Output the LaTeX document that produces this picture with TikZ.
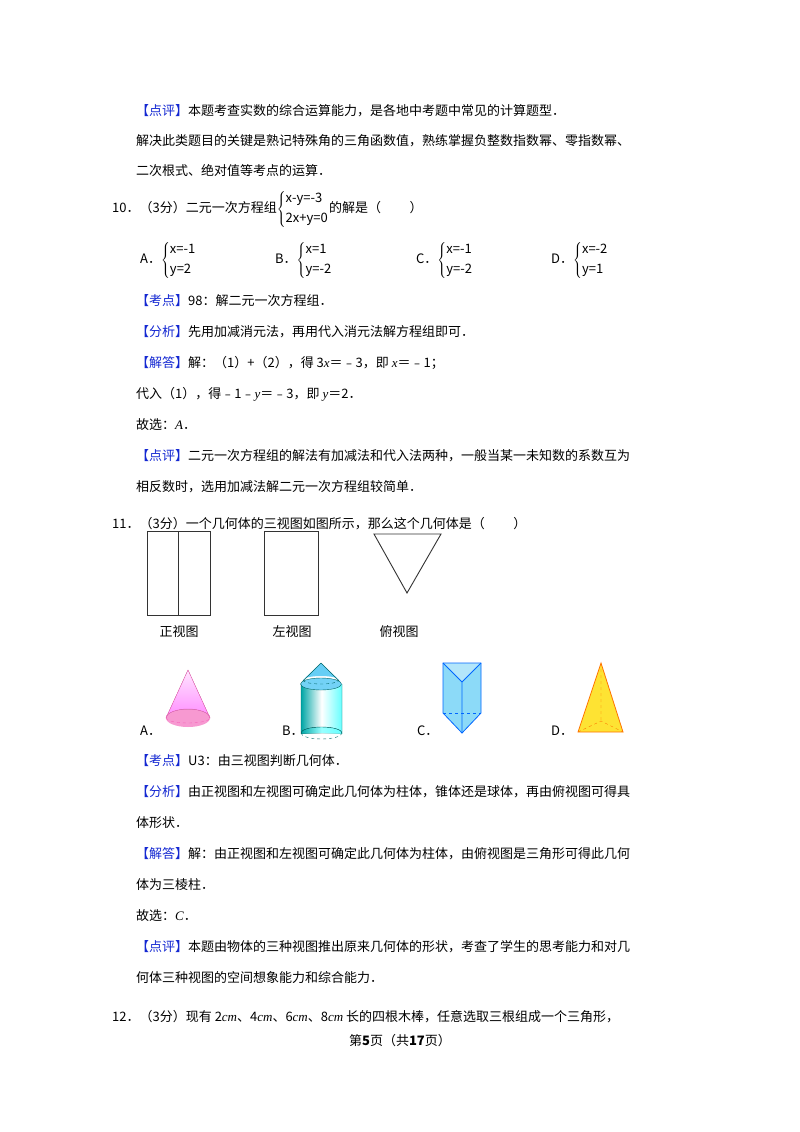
\documentclass[tikz,border=0pt]{standalone}
\usepackage{fontspec}
\setmainfont{Noto Sans CJK SC}
\newfontfamily\tnr{Liberation Serif}
\newcommand{\mi}[1]{{\tnr\itshape #1}}
\newcommand{\tg}[1]{\textcolor{tagblue}{【#1】}}
\newcommand{\eqs}[2]{$\left\{\mbox{\begin{tabular}{@{}l@{}}#1\\[5pt]#2\end{tabular}}\right.$}
\definecolor{tagblue}{RGB}{20,40,210}
\begin{document}
\begin{tikzpicture}[x=1pt,y=-1pt,
  t/.style={anchor=base west,inner sep=0pt,font=\fontsize{13}{15}\selectfont},
  lab/.style={anchor=center,inner sep=0pt,font=\fontsize{13}{15}\selectfont},
  ln/.style={line width=0.9pt,black!80}]
\useasboundingbox[fill=white] (0,0) rectangle (800,1132);
\node[t] (l1) at (136,115) {\tg{点评}本题考查实数的综合运算能力，是各地中考题中常见的计算题型．};
\node[t] (l2) at (136,145) {解决此类题目的关键是熟记特殊角的三角函数值，熟练掌握负整数指数幂、零指数幂、};
\node[t] (l3) at (136,175) {二次根式、绝对值等考点的运算．};
\node[t] (q10) at (112,212) {10．（3分）二元一次方程组\eqs{x-y=-3}{2x+y=0}的解是（\hspace{2.2em}）};
\node[t] (oA) at (140,263) {A．\eqs{x=-1}{y=2}};
\node[t] (oB) at (275,263) {B．\eqs{x=1}{y=-2}};
\node[t] (oC) at (416,263) {C．\eqs{x=-1}{y=-2}};
\node[t] (oD) at (551,263) {D．\eqs{x=-2}{y=1}};
\node[t] (k1) at (136,305) {\tg{考点}98：解二元一次方程组．};
\node[t] (f1) at (136,336) {\tg{分析}先用加减消元法，再用代入消元法解方程组即可．};
\node[t] (j1) at (136,367) {\tg{解答}解：（1）+（2），得 3\mi{x}＝﹣3，即 \mi{x}＝﹣1；};
\node[t] (j2) at (136,398) {代入（1），得﹣1﹣\mi{y}＝﹣3，即 \mi{y}＝2．};
\node[t] (j3) at (136,429) {故选：\mi{A}．};
\node[t] (p1) at (136,460) {\tg{点评}二元一次方程组的解法有加减法和代入法两种，一般当某一未知数的系数互为};
\node[t] (p2) at (136,491) {相反数时，选用加减法解二元一次方程组较简单．};
\node[t] (q11) at (112,528) {11．（3分）一个几何体的三视图如图所示，那么这个几何体是（\hspace{2.2em}）};
% three views
\draw[ln] (147,531) rectangle (210,615); \draw[ln] (178,531) -- (178,615);
\draw[ln] (264,531) rectangle (318,615);
\draw[ln] (374,534) -- (441,534) -- (407,593) -- cycle;
\node[lab] (v1) at (179,632) {正视图};
\node[lab] (v2) at (292,632) {左视图};
\node[lab] (v3) at (399,632) {俯视图};
% A cone
\node[t] (sA) at (140,735) {A．};
\fill[magenta!40] (188,718) ellipse[x radius=22,y radius=9];
\fill[top color=white!90!magenta,bottom color=magenta!45] (188,670) -- (166,718) arc[start angle=180,end angle=360,x radius=22,y radius=9] -- cycle;
\draw[magenta!60] (188,670) -- (166,718) arc[start angle=180,end angle=360,x radius=22,y radius=9] -- cycle;
\draw[magenta!60,dashed] (166,718) arc[start angle=180,end angle=0,x radius=22,y radius=5];
% B cylinder+cone
\node[t] (sB) at (282,735) {B．};
\fill[left color=teal!70!cyan,right color=cyan!60,middle color=white] (301,684) rectangle (342,733);
\fill[cyan!55] (321,684) ellipse[x radius=20.5,y radius=6];
\fill[left color=teal!70!cyan,right color=cyan!60,middle color=white!60!cyan] (301,733) arc[start angle=180,end angle=360,x radius=20.5,y radius=6] -- cycle;
\fill[cyan!60] (321,663) -- (303,680) arc[start angle=180,end angle=360,x radius=18,y radius=4] -- cycle;
\draw[teal!80!black] (321,663) -- (303,681) (321,663) -- (339,681);
\draw[teal!80!black] (321,684) ellipse[x radius=20.5,y radius=6];
\draw[teal!80!black] (301,684) -- (301,733) arc[start angle=180,end angle=360,x radius=20.5,y radius=6] -- (342,684);
\draw[teal!80!black,dashed] (301,733) arc[start angle=180,end angle=0,x radius=20.5,y radius=6];
\draw[teal!80!black,dashed] (303,680) arc[start angle=180,end angle=0,x radius=18,y radius=4];
% C prism
\node[t] (sC) at (417,735) {C．};
\fill[cyan!45] (443,663) -- (481,663) -- (481,713) -- (462,733) -- (443,713) -- cycle;
\fill[cyan!30] (443,663) -- (481,663) -- (462,682) -- cycle;
\draw[blue!60!cyan,line width=0.8pt] (443,663) -- (481,663) -- (481,713) -- (462,733) -- (443,713) -- cycle;
\draw[blue!60!cyan,line width=0.8pt] (443,663) -- (462,682) -- (481,663) (462,682) -- (462,733);
\draw[blue!60!cyan,dashed] (443,713) -- (481,713);
% D pyramid
\node[t] (sD) at (551,735) {D．};
\fill[yellow!80!orange!80] (601,663) -- (578,732) -- (623,732) -- cycle;
\draw[orange!90!red,line width=0.8pt] (601,663) -- (578,732) -- (623,732) -- cycle;
\draw[orange!90!red,dashed] (601,663) -- (601,721) (578,732) -- (601,721) -- (623,732);
\node[t] (k2) at (136,765) {\tg{考点}U3：由三视图判断几何体．};
\node[t] (f2) at (136,796) {\tg{分析}由正视图和左视图可确定此几何体为柱体，锥体还是球体，再由俯视图可得具};
\node[t] (f3) at (136,827) {体形状．};
\node[t] (j4) at (136,858) {\tg{解答}解：由正视图和左视图可确定此几何体为柱体，由俯视图是三角形可得此几何};
\node[t] (j5) at (136,889) {体为三棱柱．};
\node[t] (j6) at (136,920) {故选：\mi{C}．};
\node[t] (p3) at (136,951) {\tg{点评}本题由物体的三种视图推出原来几何体的形状，考查了学生的思考能力和对几};
\node[t] (p4) at (136,982) {何体三种视图的空间想象能力和综合能力．};
\node[t] (q12) at (112,1021) {12．（3分）现有 2\mi{cm}、4\mi{cm}、6\mi{cm}、8\mi{cm} 长的四根木棒，任意选取三根组成一个三角形，};
\node[lab] (ft) at (400,1041) {第\textbf{5}页（共\textbf{17}页）};
\end{tikzpicture}
\end{document}
